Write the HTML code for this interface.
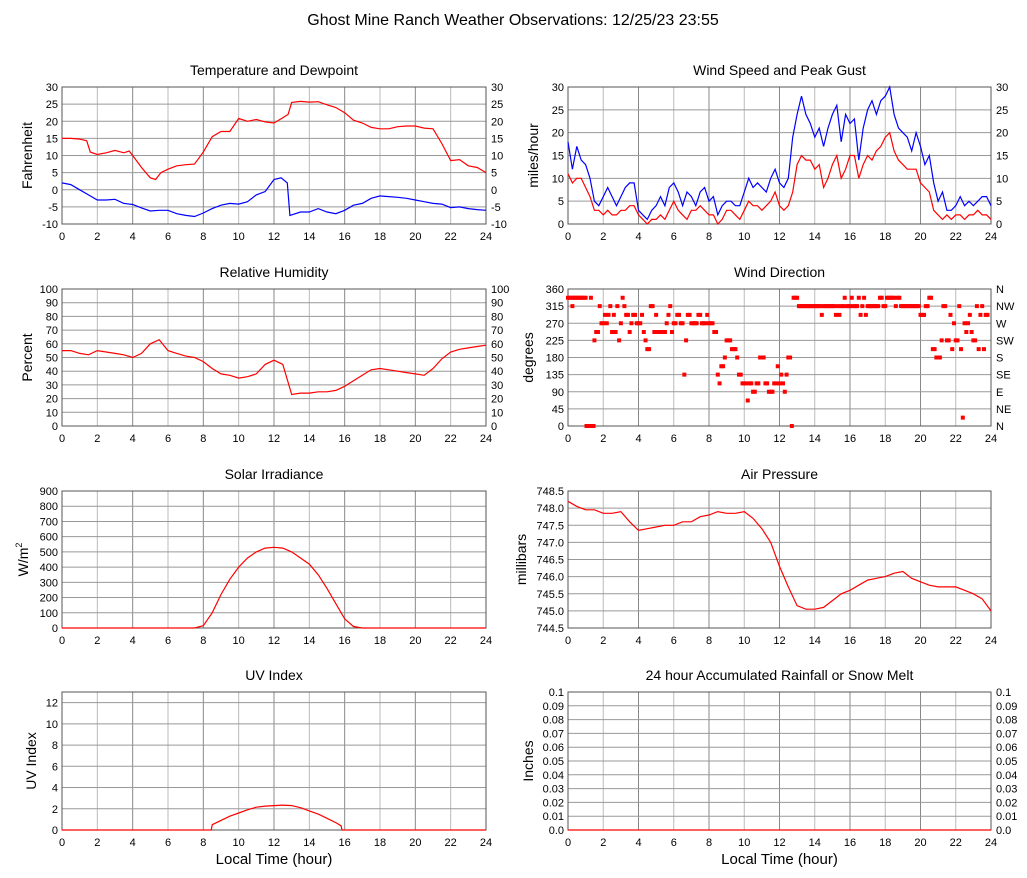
<!DOCTYPE html>
<html><head><meta charset="utf-8">
<style>
html,body{margin:0;padding:0;background:#fff;}
svg{display:block;font-family:"Liberation Sans",sans-serif;}
</style></head>
<body>
<svg id="c" width="1027" height="878" viewBox="0 0 1027 878">
<text x="513" y="25" text-anchor="middle" font-size="16" fill="#000">Ghost Mine Ranch Weather Observations: 12/25/23 23:55</text>
</svg>
<script>
// ---- data ----
const hoursHalf = [0,0.5,1,1.5,2,2.5,3,3.5,4,4.5,5,5.5,6,6.5,7,7.5,8,8.5,9,9.5,10,10.5,11,11.5,12,12.5,13,13.5,14,14.5,15,15.5,16,16.5,17,17.5,18,18.5,19,19.5,20,20.5,21,21.5,22,22.5,23,23.5,24];
const tempHours = [0,0.5,1,1.4,1.6,2,2.5,3,3.5,3.8,4,4.5,5,5.3,5.6,6,6.5,7,7.5,8,8.5,9,9.5,10,10.5,11,11.5,12,12.5,12.8,13,13.5,14,14.5,15,15.5,16,16.5,17,17.5,18,18.5,19,19.5,20,20.5,21,21.5,22,22.5,23,23.5,24];
const tempVals = [15,15,14.8,14.3,11,10.3,10.8,11.5,10.8,11.3,10,6.5,3.5,3,5,6,7,7.3,7.5,11,15.5,17,17,20.8,20,20.5,19.8,19.5,21,22,25.5,25.8,25.6,25.7,24.8,24,22.5,20.3,19.5,18.2,17.8,17.8,18.4,18.6,18.6,18,17.8,13.5,8.5,8.8,7,6.5,5];
const dewHours = [0,0.5,1,1.5,2,2.5,3,3.5,4,4.5,5,5.5,6,6.5,7,7.5,8,8.5,9,9.5,10,10.5,11,11.5,12,12.4,12.75,12.9,13.5,14,14.5,15,15.5,16,16.5,17,17.5,18,18.5,19,19.5,20,20.5,21,21.5,22,22.5,23,23.5,24];
const dewVals = [2,1.5,0,-1.5,-3,-3,-2.8,-4,-4.3,-5.3,-6.2,-6,-6,-7,-7.5,-7.8,-6.8,-5.5,-4.5,-4,-4.2,-3.5,-1.5,-0.5,3,3.5,2,-7.5,-6.5,-6.5,-5.5,-6.5,-7,-6,-4.5,-4,-2.5,-1.8,-2,-2.2,-2.5,-3,-3.5,-4,-4.2,-5.2,-5,-5.5,-5.8,-6];
const windHours = [0,0.25,0.5,0.75,1,1.25,1.5,1.75,2,2.25,2.5,2.75,3,3.25,3.5,3.75,4,4.25,4.5,4.75,5,5.25,5.5,5.75,6,6.25,6.5,6.75,7,7.25,7.5,7.75,8,8.25,8.5,8.75,9,9.25,9.5,9.75,10,10.25,10.5,10.75,11,11.25,11.5,11.75,12,12.25,12.5,12.75,13,13.25,13.5,13.75,14,14.25,14.5,14.75,15,15.25,15.5,15.75,16,16.25,16.5,16.75,17,17.25,17.5,17.75,18,18.25,18.5,18.75,19,19.25,19.5,19.75,20,20.25,20.5,20.75,21,21.25,21.5,21.75,22,22.25,22.5,22.75,23,23.25,23.5,23.75,24];
const gustVals = [18,12,17,14,13,10,5,4,6,8,6,4,6,8,9,9,3,2,1,3,4,6,4,8,9,7,4,7,6,4,7,8,5,6,2,4,5,5,4,4,7,10,8,9,8,7,10,12,9,8,10,19,24,28,24,22,19,21,17,21,24,26,18,24,22,23,14,21,25,27,24,27,28,30,24,21,20,19,16,20,17,13,15,9,5,7,3,3,4,6,4,5,4,5,6,6,4];
const speedVals = [11,9,10,10,8,6,3,3,2,3,2,2,3,3,4,4,2,1,0,1,1,2,1,3,5,3,2,1,3,3,4,3,2,2,0,1,3,3,2,1,3,5,4,4,3,4,5,7,4,3,4,7,13,15,14,14,12,13,8,10,13,15,10,12,15,15,10,13,15,14,16,17,19,20,16,14,13,12,12,12,9,8,7,3,2,1,2,1,2,2,1,2,2,3,2,2,1];
const humVals = [55,55,53,52,55,54,53,52,50,53,60,63,55,53,51,50,47,42,38,37,35,36,38,45,48,45,23,24,24,25,25,26,29,33,37,41,42,41,40,39,38,37,42,49,54,56,57,58,59];
const solarVals = [0,0,0,0,0,0,0,0,0,0,0,0,0,0,0,0,15,100,220,320,400,460,500,525,530,525,500,460,420,350,260,160,60,10,0,0,0,0,0,0,0,0,0,0,0,0,0,0,0];
const uvHours = [0,8.45,8.5,9,9.5,10,10.5,11,11.5,12,12.5,13,13.5,14,14.5,15,15.5,15.8,15.85,24];
const uvVals = [0,0,0.5,0.9,1.3,1.6,1.9,2.15,2.25,2.3,2.35,2.3,2.1,1.8,1.5,1.1,0.7,0.4,0,0];
const pressVals = [748.2,748.05,747.95,747.95,747.85,747.85,747.9,747.6,747.35,747.4,747.45,747.5,747.5,747.6,747.6,747.75,747.8,747.9,747.85,747.85,747.9,747.7,747.4,747.0,746.3,745.7,745.15,745.05,745.05,745.1,745.3,745.5,745.6,745.75,745.9,745.95,746.0,746.1,746.15,745.95,745.85,745.75,745.7,745.7,745.7,745.6,745.5,745.35,745.0];
const dirHours = [0,0.1,0.2,0.25,0.3,0.4,0.5,0.6,0.7,0.8,0.9,1.0,1.05,1.15,1.25,1.3,1.35,1.45,1.5,1.6,1.7,1.8,1.9,2.0,2.1,2.2,2.3,2.4,2.5,2.6,2.7,2.8,2.9,3.0,3.1,3.2,3.3,3.4,3.5,3.6,3.7,3.8,3.9,4.0,4.1,4.2,4.3,4.4,4.5,4.6,4.7,4.8,4.9,5.0,5.1,5.2,5.3,5.4,5.5,5.6,5.7,5.8,5.9,6.0,6.1,6.2,6.3,6.4,6.5,6.6,6.7,6.8,6.9,7.0,7.1,7.2,7.3,7.4,7.5,7.6,7.7,7.8,7.9,8.0,8.1,8.2,8.3,8.4,8.5,8.6,8.7,8.8,8.9,9.0,9.1,9.2,9.3,9.4,9.5,9.6,9.7,9.8,9.9,10.0,10.1,10.2,10.3,10.4,10.5,10.6,10.7,10.8,10.9,11.0,11.1,11.2,11.3,11.4,11.5,11.6,11.7,11.8,11.9,12.0,12.1,12.2,12.3,12.4,12.5,12.6,12.7,12.8,12.9,13.0,13.1,13.2,13.3,13.4,13.5,13.6,13.7,13.8,13.9,14.0,14.1,14.2,14.3,14.4,14.5,14.6,14.7,14.8,14.9,15.0,15.1,15.2,15.3,15.4,15.5,15.6,15.7,15.8,15.9,16.0,16.1,16.2,16.3,16.4,16.5,16.6,16.7,16.8,16.9,17.0,17.1,17.2,17.3,17.4,17.5,17.6,17.7,17.8,17.9,18.0,18.1,18.2,18.3,18.4,18.5,18.6,18.7,18.8,18.9,19.0,19.1,19.2,19.3,19.4,19.5,19.6,19.7,19.8,19.9,20.0,20.1,20.2,20.3,20.4,20.5,20.6,20.7,20.8,20.9,21.0,21.1,21.2,21.3,21.4,21.5,21.6,21.7,21.8,21.9,22.0,22.1,22.2,22.3,22.4,22.5,22.6,22.7,22.8,22.9,23.0,23.1,23.2,23.3,23.4,23.5,23.6,23.7,23.8,23.9,24.0];
const dirVals = [337,337,337,315,337,337,337,337,337,337,337,337,0,0,0,337,0,0,225,247,247,315,270,270,292,270,292,315,247,292,247,315,225,270,337,315,292,292,247,270,292,292,270,270,270,292,247,225,202,202,315,315,247,292,247,247,247,247,247,270,292,315,247,270,270,292,292,270,270,135,225,292,292,270,270,270,270,292,292,270,270,270,292,270,270,270,247,247,135,112,157,157,180,225,225,225,202,202,202,180,135,135,112,112,112,67,112,112,90,90,112,112,180,180,180,112,112,90,90,90,112,112,157,112,135,112,90,135,180,180,0,337,337,337,315,315,315,315,315,315,315,315,315,315,315,315,315,292,315,315,315,315,315,315,315,292,315,292,315,315,337,315,315,315,337,315,315,315,337,292,315,337,292,315,315,315,315,315,315,315,337,337,315,315,337,337,337,337,337,315,337,337,315,315,315,315,315,315,315,315,315,315,315,292,292,292,315,315,337,337,202,202,180,180,180,225,315,315,225,225,292,202,270,225,225,315,202,22,270,247,270,292,247,225,225,315,202,292,315,202,292,292];
const rainVals = [0,0,0,0,0,0,0,0,0,0,0,0,0,0,0,0,0,0,0,0,0,0,0,0,0,0,0,0,0,0,0,0,0,0,0,0,0,0,0,0,0,0,0,0,0,0,0,0,0];
const hourTicks = [0,2,4,6,8,10,12,14,16,18,20,22,24];
const tempTicks = [-10,-5,0,5,10,15,20,25,30];
const windTicks = [0,5,10,15,20,25,30];
const pctTicks = [0,10,20,30,40,50,60,70,80,90,100];
const dirTicks = [0,45,90,135,180,225,270,315,360];
const dirLabels = ["N","NE","E","SE","S","SW","W","NW","N"];
const solarTicks = [0,100,200,300,400,500,600,700,800,900];
const uvTicks = [0,2,4,6,8,10,12];
const pressTicks = [744.5,745.0,745.5,746.0,746.5,747.0,747.5,748.0,748.5];
const rainTicks = [0,0.01,0.02,0.03,0.04,0.05,0.06,0.07,0.08,0.09,0.1];

const NS="http://www.w3.org/2000/svg";
const svg=document.getElementById('c');
function mk(tag,attrs,parent){const e=document.createElementNS(NS,tag);for(const k in attrs)e.setAttribute(k,attrs[k]);(parent||svg).appendChild(e);return e;}

function panel(o){
  const g=mk('g',{});
  
  
  const L=o.x0,R=o.x1,T=o.y0,B=o.y1;
  const sx=h=>L+(h/24)*(R-L);
  const sy=v=>B-(v-o.min)/(o.max-o.min)*(B-T);
  const t=mk('text',{x:(L+R)/2,y:T-12,'text-anchor':'middle','font-size':14},g);t.textContent=o.title;
  
  
  hourTicks.forEach((h,i)=>{
    const l=mk('line',{x1:sx(h),x2:sx(h),y1:T,y2:B,stroke:i%2?'#bbb':'#888','stroke-width':1},g);
    
    
    const tx=mk('text',{x:sx(h),y:B+16,'text-anchor':'middle','font-size':11},g);tx.textContent=h;
    
    
  });
  o.ticks.forEach((v,i)=>{
    const l=mk('line',{x1:L,x2:R,y1:sy(v),y2:sy(v),stroke:'#999','stroke-width':1},g);
    
    
    const lab=o.fmt?o.fmt(v):String(v);
    const tl=mk('text',{x:L-4,y:sy(v)+4,'text-anchor':'end','font-size':11},g);tl.textContent=lab;
    
    
    if(o.right){
      const tr=mk('text',{x:R+5,y:sy(v)+4,'text-anchor':'start','font-size':11},g);tr.textContent=o.rightLabels?o.rightLabels[i]:lab;
      
      
    }
  });
  const fr=mk('rect',{x:L,y:T,width:R-L,height:B-T,fill:'none',stroke:'#555','stroke-width':1},g);
  
  
  const yl=mk('text',{x:0,y:0,'text-anchor':'middle','font-size':14,transform:`translate(${o.ylx},${(T+B)/2}) rotate(-90)`},g);
  yl.textContent=o.ylabel;
  
  
  if(o.sup){const ts=mk('tspan',{'font-size':9,dy:-6},yl);ts.textContent=o.sup;}
  if(o.xlabel){
    const xl=mk('text',{x:(L+R)/2,y:B+34,'text-anchor':'middle','font-size':15},g);xl.textContent='Local Time (hour)';
    
    
  }
  (o.series||[]).forEach(s=>{
    const n=Math.min(s.h.length,s.v.length);
    const d=s.h.slice(0,n).map((h,i)=>(i?'L':'M')+sx(h).toFixed(1)+' '+sy(s.v[i]).toFixed(1)).join(' ');
    const p=mk('path',{d:d,fill:'none',stroke:s.c,'stroke-width':1.2},g);
    
    
  });
  if(o.points){
    o.points.h.forEach((h,i)=>{
      const v=o.points.v[i];
      if(v===undefined) return;
      const r=mk('rect',{x:sx(h)-2,y:sy(v)-2,width:4,height:4,fill:'#f00'},g);
      
      
    });
  }
}
const LX0=62,LX1=486,RX0=568,RX1=991;
panel({name:'temperature-panel',title:'Temperature and Dewpoint',x0:LX0,x1:LX1,y0:87,y1:224,min:-10,max:30,ticks:tempTicks,right:true,ylabel:'Fahrenheit',ylx:32,
  series:[{h:tempHours,v:tempVals,c:'#f00',name:'temperature-line'},{h:dewHours,v:dewVals,c:'#00f',name:'dewpoint-line'}]});
panel({name:'wind-speed-panel',title:'Wind Speed and Peak Gust',x0:RX0,x1:RX1,y0:87,y1:224,min:0,max:30,ticks:windTicks,right:true,ylabel:'miles/hour',ylx:538,
  series:[{h:windHours,v:gustVals,c:'#00f',name:'gust-line'},{h:windHours,v:speedVals,c:'#f00',name:'wind-speed-line'}]});
panel({name:'humidity-panel',title:'Relative Humidity',x0:LX0,x1:LX1,y0:289,y1:426,min:0,max:100,ticks:pctTicks,right:true,ylabel:'Percent',ylx:32,
  series:[{h:hoursHalf,v:humVals,c:'#f00',name:'humidity-line'}]});
panel({name:'wind-direction-panel',title:'Wind Direction',x0:RX0,x1:RX1,y0:289,y1:426,min:0,max:360,ticks:dirTicks,right:true,rightLabels:dirLabels,ylabel:'degrees',ylx:533,
  points:{h:dirHours,v:dirVals}});
panel({name:'solar-panel',title:'Solar Irradiance',x0:LX0,x1:LX1,y0:491,y1:628,min:0,max:900,ticks:solarTicks,ylabel:'W/m',sup:'2',ylx:28,
  series:[{h:hoursHalf,v:solarVals,c:'#f00',name:'solar-line'}]});
panel({name:'pressure-panel',title:'Air Pressure',x0:RX0,x1:RX1,y0:491,y1:628,min:744.5,max:748.5,ticks:pressTicks,ylabel:'millibars',ylx:526,fmt:v=>v.toFixed(1),
  series:[{h:hoursHalf,v:pressVals,c:'#f00',name:'pressure-line'}]});
panel({name:'uv-panel',title:'UV Index',x0:LX0,x1:LX1,y0:692,y1:830,min:0,max:13,ticks:uvTicks,ylabel:'UV Index',ylx:36,xlabel:true,
  series:[{h:uvHours,v:uvVals,c:'#f00',name:'uv-line'}]});
panel({name:'rainfall-panel',title:'24 hour Accumulated Rainfall or Snow Melt',x0:RX0,x1:RX1,y0:692,y1:830,min:0,max:0.1,ticks:rainTicks,right:true,ylabel:'Inches',ylx:533,xlabel:true,
  fmt:v=>v===0?'0.0':(v===0.1?'0.1':String(v)),series:[{h:hoursHalf,v:rainVals,c:'#f00',name:'rainfall-line'}]});
</script>
</body></html>
